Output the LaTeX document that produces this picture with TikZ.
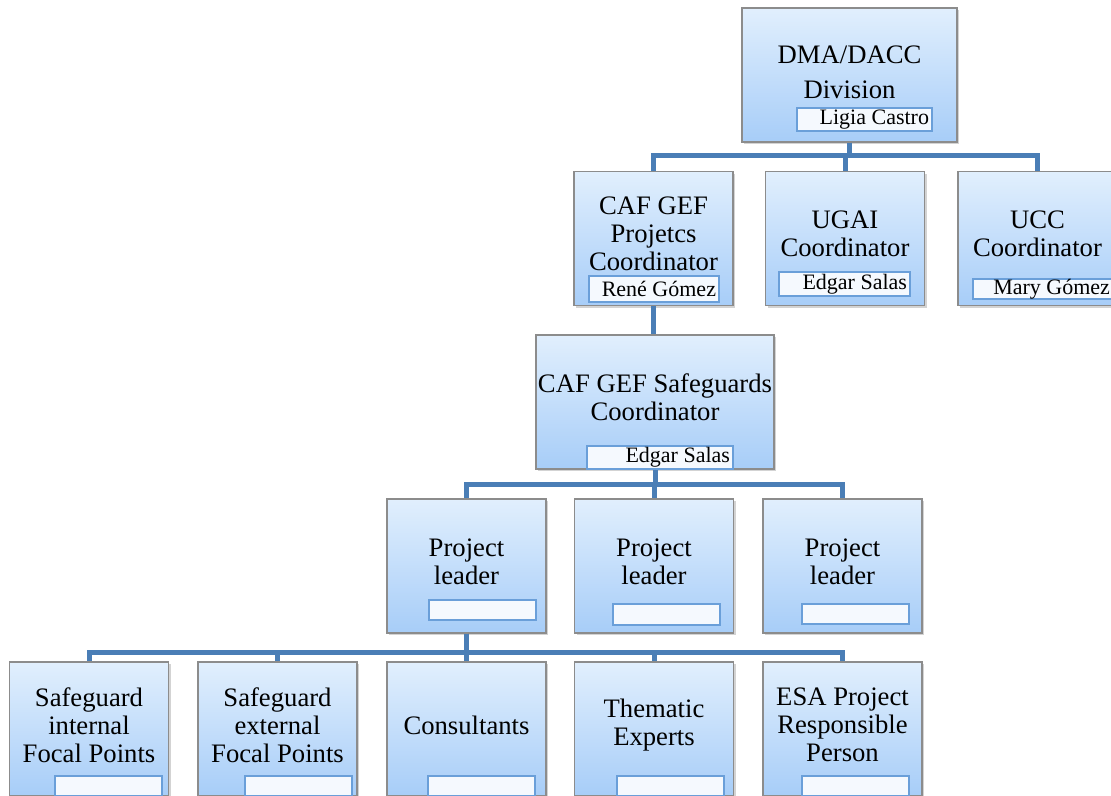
\documentclass[tikz,border=0pt]{standalone}
\usepackage{fontspec}
\setmainfont{Liberation Serif}
\usetikzlibrary{shadows}
\newdimen\px \px=0.75pt
\definecolor{boxtop}{HTML}{E1EFFD}
\definecolor{boxbot}{HTML}{A7CDF8}
\definecolor{linkblue}{HTML}{4A7EB6}
\definecolor{nameblue}{HTML}{6A9FD9}
\definecolor{namefill}{HTML}{F5F9FE}

\begin{document}
\begin{tikzpicture}[x=0.75pt, y=-0.75pt,
		unit/.style={draw=black!45, line width=1.5*\px, top color=boxtop, bottom color=boxbot,
			minimum width=159*\px, minimum height=134*\px, inner sep=0pt,
			drop shadow={shadow xshift=2*\px, shadow yshift=-2*\px, opacity=.35}},
		title/.style={align=center, inner sep=0pt, font=\fontsize{20}{21}\selectfont},
		who/.style={draw=nameblue, line width=2*\px, fill=namefill, minimum height=20*\px,
			inner xsep=3*\px, inner ysep=0pt, align=flush right, font=\fontsize{16.5}{17}\selectfont},
		blank/.style={who, minimum width=107*\px},
		link/.style={draw=linkblue, line width=5*\px}]
	\useasboundingbox (0,0) rectangle (1111,796);

	% boxes
	\node[unit, minimum width=215*\px] (dma) at (849.5,75) {};
	\node[unit] (caf)  at (653.5,238.5) {};
	\node[unit] (ugai) at (845,238.5) {};
	\node[unit] (ucc)  at (1037.5,238.5) {};
	\node[unit, minimum width=238*\px] (safe) at (655,402) {};
	\node[unit] (pla) at (466.5,566) {};
	\node[unit] (plb) at (654,566) {};
	\node[unit] (plc) at (842.5,566) {};
	\node[unit] (sgi) at (89,729) {};
	\node[unit] (sge) at (277.5,729) {};
	\node[unit] (cons) at (466.5,729) {};
	\node[unit] (them) at (654,729) {};
	\node[unit] (esa) at (842.5,729) {};

	% connectors
	\draw[link] (dma.south) -- ++(0,13) -| (caf.north);
	\draw[link] (dma.south) -- ++(0,13) -| (ugai.north);
	\draw[link] (dma.south) -- ++(0,13) -| (ucc.north);
	\draw[link] (caf.south) -- (caf.south |- safe.north);
	\draw[link] (safe.south) -- ++(0,15) -| (pla.north);
	\draw[link] (safe.south) -- ++(0,15) -| (plb.north);
	\draw[link] (safe.south) -- ++(0,15) -| (plc.north);
	\foreach \n in {sgi,sge,cons,them,esa}
		\draw[link] (pla.south) -- ++(0,19) -| (\n.north);

	% titles
	\node[title] (dmat) at (849.5,72.5) {DMA/DACC\\[5.25pt]Division};
	\node[title] (caft) at (653.5,234) {CAF GEF\\Projetcs\\Coordinator};
	\node[title] (ugait) at (845,234) {UGAI\\Coordinator};
	\node[title] (ucct) at (1037.5,234) {UCC\\Coordinator};
	\node[title] (safet) at (655,397.5) {CAF GEF Safeguards\\Coordinator};
	\node[title] (plat) at (466.5,562) {Project\\leader};
	\node[title] (plbt) at (654,562) {Project\\leader};
	\node[title] (plct) at (842.5,562) {Project\\leader};
	\node[title] (sgit) at (89,725) {Safeguard\\internal\\Focal Points};
	\node[title] (sget) at (277.5,725) {Safeguard\\external\\Focal Points};
	\node[title] (const) at (466.5,725) {Consultants};
	\node[title] (themt) at (654,725.5) {Thematic\\Experts};
	\node[title] (esat) at (842.5,725) {ESA Project\\Responsible\\Person};

	% names
	\node[who, text width=96.75pt, minimum height=23*\px] (ligia) at (864.5,119.5) {Ligia Castro};
	\node[who, text width=93pt, minimum height=26*\px] (rene) at (654,289) {René Gómez};
	\node[who, text width=93.75pt, minimum height=24*\px] (edgara) at (844.5,284) {Edgar Salas};
	\node[who, text width=100.5pt] (mary) at (1043,289) {Mary Gómez};
	\node[who, text width=105pt, minimum height=23*\px] (edgarb) at (660,457.5) {Edgar Salas};
	\node[blank] (npla) at (482.5,610) {};
	\node[blank, minimum height=21*\px] (nplb) at (666,614.5) {};
	\node[blank] (nplc) at (855,614) {};
	\node[blank] (nsgi) at (108.5,786) {};
	\node[blank] (nsge) at (298.5,786) {};
	\node[blank] (ncons) at (481,786) {};
	\node[blank] (nthem) at (670,786) {};
	\node[blank] (nesa) at (855.5,786) {};
\end{tikzpicture}
\end{document}
